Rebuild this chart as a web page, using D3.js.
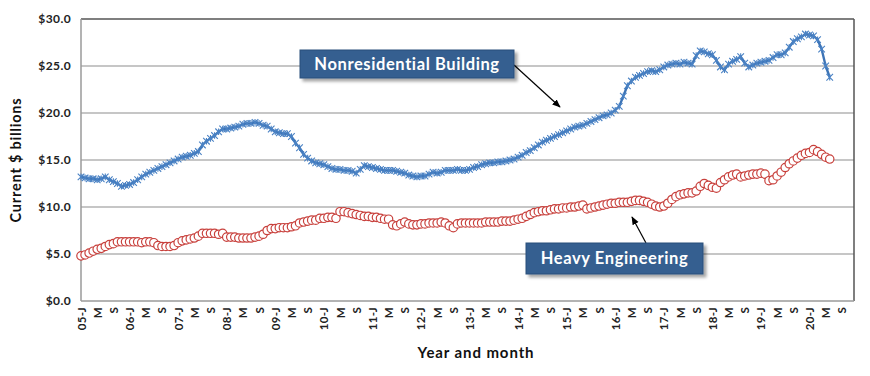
<!DOCTYPE html>
<html>
<head>
<meta charset="utf-8">
<script src="https://cdn.jsdelivr.net/npm/d3@7"></script>
<style>
  body { margin: 0; background: #fff; }
  text { font-family: "Lato", "DejaVu Sans", sans-serif; font-weight: bold; }
</style>
</head>
<body>
<div id="chart"></div>
<script>
// monthly values, Jan 2005 .. Jun 2020 (current $ billions)
var nonresidential = [
  13.2, 13.1, 13.0, 13.0, 12.9, 13.0, 13.2, 12.9, 12.7, 12.5, 12.2, 12.3,
  12.4, 12.6, 12.9, 13.2, 13.5, 13.7, 13.9, 14.1, 14.3, 14.5, 14.7, 14.9,
  15.1, 15.3, 15.4, 15.5, 15.7, 15.9, 16.6, 17.0, 17.3, 17.6, 18.0, 18.3,
  18.3, 18.4, 18.5, 18.6, 18.8, 18.9, 18.9, 19.0, 18.9, 18.7, 18.6, 18.3,
  18.0, 17.9, 17.8, 17.8, 17.5, 16.8, 16.3, 15.6, 15.2, 14.9, 14.7, 14.6,
  14.5, 14.3, 14.1, 14.0, 14.0, 13.9, 13.9, 13.8, 13.6, 14.0, 14.4, 14.3,
  14.2, 14.1, 14.0, 13.9, 13.9, 13.9, 13.8, 13.7, 13.6, 13.4, 13.3, 13.2,
  13.3, 13.3, 13.5, 13.7, 13.6, 13.7, 13.9, 13.9, 13.9, 14.0, 13.9, 13.9,
  14.0, 14.2, 14.3, 14.5, 14.6, 14.7, 14.7, 14.8, 14.8, 14.9, 15.0, 15.1,
  15.3, 15.5, 15.8, 16.0, 16.3, 16.6, 16.9, 17.1, 17.3, 17.5, 17.7, 17.9,
  18.1, 18.3, 18.5, 18.6, 18.7, 18.9, 19.1, 19.3, 19.5, 19.7, 19.8, 20.0,
  20.3, 20.7, 21.8, 22.9, 23.4, 23.8, 24.0, 24.2, 24.4, 24.5, 24.4, 24.6,
  24.9, 25.1, 25.2, 25.3, 25.2, 25.4, 25.3, 25.2, 26.1, 26.6, 26.5, 26.3,
  26.2, 25.6, 24.9, 24.6, 25.2, 25.5, 25.7, 26.0, 25.3, 24.9, 25.1, 25.3,
  25.4, 25.5, 25.6, 25.9, 26.2, 26.2, 26.4, 27.0, 27.6, 27.9, 28.1, 28.4,
  28.3, 28.2, 27.8, 26.8, 25.0, 23.8
];
var heavyEngineering = [
  4.8, 4.9, 5.1, 5.3, 5.5, 5.6, 5.8, 6.0, 6.1, 6.3, 6.3, 6.3,
  6.3, 6.3, 6.3, 6.2, 6.3, 6.3, 6.2, 5.9, 5.8, 5.8, 5.8, 5.9,
  6.2, 6.4, 6.5, 6.6, 6.7, 6.9, 7.2, 7.2, 7.2, 7.2, 7.1, 7.2,
  6.8, 6.8, 6.8, 6.7, 6.7, 6.7, 6.7, 6.8, 6.9, 7.1, 7.5, 7.7,
  7.7, 7.8, 7.8, 7.8, 7.9, 8.0, 8.3, 8.4, 8.5, 8.6, 8.6, 8.8,
  8.8, 8.9, 8.9, 8.8, 9.5, 9.5, 9.4, 9.3, 9.2, 9.1, 9.0, 9.0,
  8.9, 8.9, 8.8, 8.7, 8.7, 8.1, 8.0, 8.2, 8.4, 8.2, 8.1, 8.1,
  8.2, 8.2, 8.3, 8.3, 8.3, 8.4, 8.3, 8.0, 7.8, 8.2, 8.3, 8.3,
  8.3, 8.3, 8.3, 8.3, 8.4, 8.4, 8.4, 8.4, 8.5, 8.5, 8.5, 8.6,
  8.7, 8.8, 9.0, 9.2, 9.4, 9.5, 9.6, 9.6, 9.7, 9.8, 9.8, 9.9,
  9.9, 10.0, 10.0, 10.1, 10.2, 9.8, 9.9, 10.0, 10.1, 10.2, 10.3, 10.4,
  10.4, 10.5, 10.5, 10.5, 10.6, 10.7, 10.7, 10.6, 10.5, 10.3, 10.1, 10.0,
  10.1, 10.4, 10.8, 11.1, 11.3, 11.4, 11.5, 11.5, 11.7, 12.2, 12.5, 12.3,
  12.1, 12.0, 12.6, 12.9, 13.2, 13.4, 13.5, 13.2, 13.3, 13.4, 13.5, 13.5,
  13.6, 13.5, 12.8, 12.9, 13.3, 13.7, 14.2, 14.6, 14.9, 15.2, 15.5, 15.7,
  15.8, 16.1, 15.9, 15.6, 15.3, 15.1
];
// category axis runs Jan 2005 .. Dec 2020, labelled every 4th month
var years = d3.range(2005, 2021);
var monthLetters = ["J", "M", "S"];
var yTicks = [0, 5, 10, 15, 20, 25, 30];

var margin = {top: 19, right: 16, bottom: 75, left: 81},
    width = 870 - margin.left - margin.right,
    height = 376 - margin.top - margin.bottom;

var svg = d3.select("#chart")
  .append("svg")
    .attr("width", 870)
    .attr("height", 376);

var defs = svg.append("defs");
var f = defs.append("filter").attr("id", "shadow")
    .attr("x", "-10%").attr("y", "-20%").attr("width", "130%").attr("height", "160%");
f.append("feDropShadow").attr("dx", 3).attr("dy", 3).attr("stdDeviation", 1.5)
    .attr("flood-color", "#000").attr("flood-opacity", 0.35);
var mk = defs.append("marker").attr("id", "arrow")
    .attr("viewBox", "0 0 10 10").attr("refX", 9).attr("refY", 5)
    .attr("markerWidth", 7).attr("markerHeight", 7).attr("orient", "auto");
mk.append("path").attr("d", "M0,1 L10,5 L0,9 Z").attr("fill", "#000");

var g = svg.append("g")
    .attr("transform", "translate(" + margin.left + "," + margin.top + ")");

var nCats = years.length * 12;
var x = d3.scaleLinear().domain([0, nCats - 1]).range([0, width]);
var y = d3.scaleLinear().domain([0, 30]).range([height, 0]);

// gridlines
g.append("g")
  .selectAll("line")
  .data(yTicks.slice(1, -1))
  .enter().append("line")
    .attr("x1", 0).attr("x2", width)
    .attr("y1", d => y(d)).attr("y2", d => y(d))
    .attr("stroke", "#b3b3b3").attr("stroke-width", 1.5);

// frame: top and right darker
g.append("line").attr("x1", 0).attr("x2", width).attr("y1", 0).attr("y2", 0)
  .attr("stroke", "#555").attr("stroke-width", 1.5);
g.append("line").attr("x1", width).attr("x2", width).attr("y1", 0).attr("y2", height)
  .attr("stroke", "#555").attr("stroke-width", 1.5);
g.append("line").attr("x1", 0).attr("x2", 0).attr("y1", 0).attr("y2", height)
  .attr("stroke", "#9a9a9a").attr("stroke-width", 1.5);
g.append("line").attr("x1", 0).attr("x2", width).attr("y1", height).attr("y2", height)
  .attr("stroke", "#9a9a9a").attr("stroke-width", 1.5);

// y axis labels
var yAxis = d3.axisLeft(y).tickValues(yTicks).tickSize(0).tickPadding(10)
  .tickFormat(d => "$" + d3.format(".1f")(d));
g.append("g").call(yAxis)
  .call(s => s.select(".domain").remove())
  .selectAll("text")
    .attr("font-size", 12).attr("fill", "#222")
    .attr("letter-spacing", 0.4)
    .attr("font-family", "Lato, 'DejaVu Sans', sans-serif")
    .attr("font-weight", "bold");

// x axis labels (rotated)
var xTickIdx = d3.range(0, nCats, 4);
var xAxis = d3.axisBottom(x).tickValues(xTickIdx).tickSize(0).tickPadding(0)
  .tickFormat(function(i) {
    var m = i % 12, yr = years[Math.floor(i / 12)];
    var letter = monthLetters[m / 4];
    return m === 0 ? String(yr).slice(2) + "-" + letter : letter;
  });
g.append("g").attr("transform", "translate(0," + height + ")").call(xAxis)
  .call(s => s.select(".domain").remove())
  .selectAll("text")
    .attr("font-size", 11.5).attr("fill", "#222")
    .attr("letter-spacing", 0.3)
    .attr("font-family", "Lato, 'DejaVu Sans', sans-serif")
    .attr("font-weight", "bold")
    .attr("text-anchor", "end")
    .attr("dy", "0.35em")
    .attr("transform", "translate(0,6) rotate(-90)")
    .attr("x", 0).attr("y", 0);

// axis titles
svg.append("text")
  .attr("transform", "translate(21," + (margin.top + height / 2) + ") rotate(-90)")
  .attr("text-anchor", "middle").attr("font-size", 14.5).attr("fill", "#111")
  .attr("letter-spacing", 0.8)
  .text("Current $ billions");
svg.append("text")
  .attr("x", 476).attr("y", 358)
  .attr("text-anchor", "middle").attr("font-size", 15).attr("fill", "#111")
  .attr("letter-spacing", 0.9)
  .text("Year and month");

// Nonresidential building line with star markers
var line = d3.line().x((d, i) => x(i)).y(d => y(d));
g.append("path").datum(nonresidential)
  .attr("d", line).attr("fill", "none")
  .attr("stroke", "#3d74b6").attr("stroke-width", 2.4);
var s = 3.3;
g.append("g").selectAll("path")
  .data(nonresidential)
  .enter().append("path")
    .attr("transform", (d, i) => "translate(" + x(i) + "," + y(d) + ")")
    .attr("d", "M" + -s + "," + -s + "L" + s + "," + s + "M" + -s + "," + s + "L" + s + "," + -s + "M0," + -s + "L0," + s)
    .attr("stroke", "#4a82c4").attr("stroke-width", 1.1).attr("fill", "none");

// Heavy engineering circles
g.append("path").datum(heavyEngineering)
  .attr("d", line).attr("fill", "none")
  .attr("stroke", "#c0504d").attr("stroke-width", 1);
g.append("g").selectAll("circle")
  .data(heavyEngineering)
  .enter().append("circle")
    .attr("cx", (d, i) => x(i)).attr("cy", d => y(d))
    .attr("r", 4.2)
    .attr("fill", "#fff").attr("stroke", "#c8403c").attr("stroke-width", 1.2);

// callouts
function callout(bx, by, bw, bh, label, ax1, ay1, ax2, ay2) {
  svg.append("line")
    .attr("x1", ax1).attr("y1", ay1).attr("x2", ax2).attr("y2", ay2)
    .attr("stroke", "#000").attr("stroke-width", 1.2)
    .attr("marker-end", "url(#arrow)");
  svg.append("rect")
    .attr("x", bx).attr("y", by).attr("width", bw).attr("height", bh)
    .attr("fill", "#345f90").attr("stroke", "#2b4f7a").attr("stroke-width", 1)
    .attr("filter", "url(#shadow)");
  svg.append("text")
    .attr("x", bx + bw / 2).attr("y", by + bh / 2)
    .attr("dy", "0.36em").attr("text-anchor", "middle")
    .attr("font-size", 16.5).attr("fill", "#fff")
    .attr("letter-spacing", 0.6)
    .text(label);
}
callout(300, 50, 214, 28, "Nonresidential Building", 514, 65, 560, 107);
callout(526, 243, 177, 31, "Heavy Engineering", 646, 243, 632, 217);
</script>
</body>
</html>
